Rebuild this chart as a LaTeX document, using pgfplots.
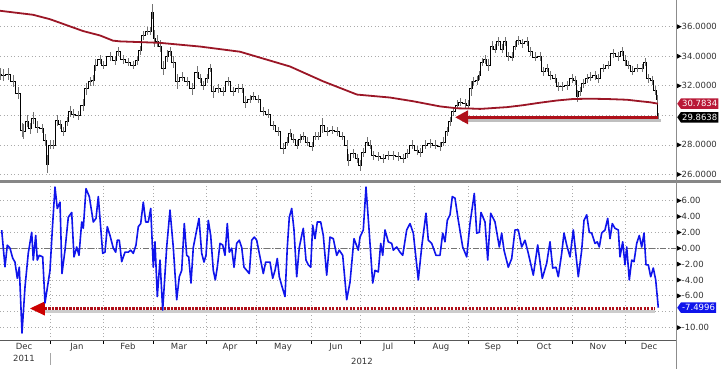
\documentclass[border=0pt]{standalone}
\usepackage{fontspec}
\setmainfont{DejaVu Sans}
\usepackage{pgfplots}
\pgfplotsset{compat=1.18}
\usepackage{pgfplotstable}
\usetikzlibrary{arrows.meta,shapes.symbols}

\definecolor{ma}{RGB}{155,22,38}
\definecolor{bl}{RGB}{15,20,235}
\definecolor{arr}{RGB}{175,15,25}
\definecolor{tagred}{RGB}{185,25,55}
\definecolor{gridc}{RGB}{170,170,170}
\definecolor{sepc}{RGB}{135,135,135}

\newcommand{\tri}{\tikz[baseline=-3pt]\fill[black] (0,2.3pt)--(4.5pt,0)--(0,-2.3pt)--cycle;}

% price: x position (days axis), close, half range (high-low)
\pgfplotstableread{
x c e
0 32.8 0.4
3 32.7 0.4
8 32.8 0.4
13 32.3 0.4
18 31.5 0.4
22 29.0 0.5
23 28.9 0.5
27 29.6 0.4
30 29.1 0.4
33 29.8 0.4
37 29.2 0.4
42 29.1 0.3
45 28.3 0.4
47 26.7 0.6
50 28.0 0.3
53 28.0 0.3
57 29.65 0.4
60 29.4 0.3
63 28.9 0.3
67 29.6 0.3
70 30.25 0.4
73 30.1 0.3
78 30.0 0.3
83 30.7 0.4
86 31.8 0.4
90 32.3 0.3
93 32.35 0.4
95 33.4 0.4
100 33.8 0.3
103 33.4 0.3
110 34.0 0.3
115 33.7 0.3
118 34.3 0.3
123 33.8 0.3
128 33.6 0.3
133 33.4 0.3
137 33.7 0.3
140 34.4 0.3
143 35.4 0.3
147 35.7 0.3
150 35.7 0.3
152 37.0 0.5
154 35.2 0.6
157 35.0 0.4
160 34.7 0.4
163 33.2 0.5
167 34.0 0.4
170 34.3 0.3
173 33.6 0.4
177 32.3 0.5
182 32.6 0.3
187 32.3 0.3
192 31.8 0.4
197 32.9 0.4
200 32.5 0.3
203 32.0 0.3
207 32.5 0.3
210 33.2 0.3
213 31.6 0.4
218 31.8 0.3
223 31.6 0.3
228 32.3 0.3
233 31.6 0.3
238 31.8 0.3
242 31.8 0.3
245 30.9 0.4
250 31.1 0.3
253 31.3 0.3
258 31.1 0.3
263 30.25 0.3
268 30.1 0.3
273 29.3 0.3
278 28.9 0.3
283 27.75 0.4
287 28.2 0.3
290 28.8 0.3
293 28.4 0.3
297 28.0 0.3
300 28.4 0.3
303 28.6 0.3
307 28.2 0.3
312 27.9 0.3
315 28.6 0.3
318 28.6 0.3
322 29.3 0.5
327 28.9 0.3
332 29.0 0.3
337 28.9 0.3
342 28.6 0.3
347 28.0 0.3
348 26.95 0.4
353 27.4 0.3
357 27.1 0.3
360 26.6 0.4
363 27.5 0.3
367 28.2 0.3
370 28.0 0.3
373 27.3 0.3
378 27.2 0.3
383 27.1 0.3
388 27.3 0.3
393 27.3 0.3
398 27.2 0.3
403 27.1 0.3
407 27.4 0.3
412 28.0 0.3
417 27.6 0.3
420 27.5 0.3
425 28.0 0.3
430 28.1 0.3
435 28.0 0.3
440 27.9 0.3
443 28.2 0.3
447 28.9 0.3
450 29.6 0.3
453 30.25 0.3
457 30.7 0.3
460 30.9 0.3
465 30.8 0.3
468 30.7 0.3
471 31.8 0.5
473 32.3 0.3
477 32.35 0.3
479 32.7 0.3
482 33.6 0.3
485 33.8 0.3
488 33.4 0.4
492 34.7 0.3
495 34.5 0.3
498 35.0 0.3
502 34.5 0.3
505 35.0 0.3
508 34.0 0.3
512 33.95 0.3
515 34.7 0.3
518 35.05 0.3
522 34.85 0.3
527 35.0 0.3
530 34.3 0.3
535 33.95 0.3
540 34.0 0.3
543 32.95 0.3
547 33.2 0.3
550 32.7 0.3
555 32.5 0.3
558 31.95 0.3
562 31.95 0.3
567 32.0 0.3
572 32.5 0.3
575 32.35 0.3
577 31.3 0.4
580 31.6 0.3
583 32.15 0.3
587 32.5 0.3
590 32.6 0.3
595 32.7 0.3
598 32.5 0.3
603 33.2 0.3
608 33.4 0.3
613 34.2 0.3
618 34.0 0.3
622 34.3 0.3
625 33.7 0.4
628 33.4 0.3
632 33.0 0.3
637 33.2 0.3
642 33.2 0.3
645 33.6 0.3
648 32.5 0.3
652 32.35 0.3
655 31.7 0.3
657 31.1 0.3
658 29.8638 0.3
}\price

\pgfplotstableread{
x v
0 37.07
33 36.8
50 36.5
83 35.7
100 35.4
113 35.05
120 35.0
160 34.9
200 34.65
240 34.3
290 33.3
323 32.3
357 31.4
390 31.2
413 30.95
440 30.6
457 30.47
473 30.45
480 30.43
507 30.55
523 30.68
540 30.85
557 31.0
573 31.1
590 31.12
607 31.1
627 31.05
640 30.95
650 30.88
658 30.7834
}\mavg

\pgfplotsset{
  common/.style={
    scale only axis, width=676pt, xmin=0, xmax=676, clip=false,
    axis x line*=bottom, axis y line*=right,
    y axis line style={draw=none},
    major tick length=0pt, minor tick length=3pt, tick align=outside,
    tick style={black, line width=0.6pt},
    minor xtick={50,103,153,206,256,311,360,414,468,517,572,625},
    xminorgrids, ymajorgrids,
    grid style={gridc, line width=0.6pt, dash pattern=on 1pt off 2.5pt},
    minor grid style={gridc, line width=0.6pt, dash pattern=on 1pt off 2.5pt},
    minor y tick num=1,
    yticklabel style={anchor=west, inner sep=0pt, xshift=1pt,
      font=\fontsize{8.5}{10}\selectfont, text=black!80},
    extra y tick style={grid=major, yticklabel={}},
  }
}

\begin{document}
\begin{tikzpicture}[font=\fontsize{8.5}{12.5}\selectfont]
\path[use as bounding box] (0,0) rectangle (721pt,369pt);

\begin{axis}[common, at={(0pt,189pt)}, anchor=south west, height=180pt,
  ymin=25.62, ymax=37.8, ytick={26,28,32,34,36}, extra y ticks={30}, xtick=\empty,
  x axis line style={draw=none},
  yticklabel={\tri\pgfmathprintnumber[fixed,fixed zerofill,precision=4,assume math mode=true]{\tick}}]
\addplot[black, line width=0.5pt, const plot mark mid,
  error bars/.cd, y dir=both, y explicit,
  error bar style={black!55, line width=0.8pt}, error mark=none]
  table[x=x, y=c, y error=e] {\price};
\addplot[ma, line width=1.8pt] table[x=x, y=v] {\mavg};
\addplot[black!25, line width=3.5pt] coordinates {(462,29.66) (661,29.66)};
\addplot[arr, line width=3.5pt, {Triangle[length=13pt,width=13pt]}-] coordinates {(455,29.8638) (658,29.8638)};
\coordinate (tR) at (axis cs:676,30.7834);
\coordinate (tK) at (axis cs:676,29.8638);
\end{axis}

\begin{axis}[common, at={(0pt,28.3pt)}, anchor=south west, height=157.2pt,
  ymin=-11.66, ymax=8.15, ytick={-10,-6,-4,-2,0,2,4,6}, extra y ticks={-8},
  x axis line style={black!65, line width=0.8pt},
  xtick={24,77,128,179,230,283,336,388,441,493,544,598,649},
  xticklabels={{Dec\\2011},Jan,Feb,Mar,Apr,May,Jun,Jul,Aug,Sep,Oct,Nov,Dec},
  xticklabel style={align=center, text=black!80, inner sep=2pt},
  yticklabel={\tri\pgfmathprintnumber[fixed,fixed zerofill,precision=2,assume math mode=true]{\tick}}]
\addplot[black!55, line width=0.6pt, dash pattern=on 6pt off 2pt on 1pt off 2pt] coordinates {(0,0) (676,0)};
\addplot[black!20, line width=3pt] coordinates {(45,-7.95) (655,-7.95)};
\addplot[arr, line width=2.6pt, dash pattern=on 2.2pt off 1.3pt] coordinates {(45,-7.6) (655,-7.6)};
\addplot[red!80!black, line width=1pt, {Triangle[length=15pt,width=14pt]}-] coordinates {(30,-7.6) (47,-7.6)};
\addplot[bl, line width=1.6pt, line join=round] coordinates {
(1.7,2.27) (5,-2.35) (7.3,0.38) (10,0) (12.7,-1.26) (15,-1.76) (17.3,-3.8) (19.3,-2.4) (22,-10.7) (25,-4.9)
(28.3,-0.6) (31.7,2.0) (33.3,-1.5) (35.7,1.6) (37.3,-1.5) (39.3,-0.9) (42.7,-1.1) (45,-6.9) (50,-2.8) (52.3,2.3)
(55,7.7) (57.3,5.0) (60,5.8) (62,-3.2) (65,-0.25) (68.3,3.9) (71.7,4.5) (74,-1.1) (76.7,0.15) (79,-0.9)
(81.7,3.3) (83.3,2.5) (86,7.5) (89.3,6.5) (93.3,3.3) (96,3.75) (98.3,6.5) (102.7,-0.65) (105,-0.5) (107.3,2.7)
(110,1.6) (113.3,0) (115.7,-0.5) (117.3,1.0) (119.3,1.0) (121.7,-1.7) (125,-0.5) (128.3,-0.5) (130.7,-0.25) (133.3,-0.65)
(136,0.4) (138.3,2.7) (140.7,3.1) (143.3,5.8) (145.7,3.3) (148.3,3.3) (150.7,5.0) (153.3,-2.4) (155,0.8) (157.3,-6.1)
(160,-1.5) (162.7,-7.8) (166.7,0.15) (170,4.8) (173.3,0.1) (176.7,-6.5) (179.3,-3.6) (181.7,-2.8) (184.3,3.1) (186.7,-0.9)
(188.7,-1.1) (191,-4.4) (193.3,0.1) (196.7,2.3) (199,3.75) (201.7,-0.65) (204,-1.75) (206,-0.9) (208.3,3.5) (210.7,1.6)
(213.3,-2.8) (215.3,-4.0) (217.3,-2.4) (220,0.6) (222.7,0.4) (225,-0.9) (227.3,3.1) (229.3,-0.5) (231.7,0) (234,-2.4)
(236.7,0.6) (239.3,1.0) (241.7,0.1) (244,-2.4) (246.7,-2.8) (249.3,-3.2) (251.7,1.0) (254.3,1.4) (256.7,1.0) (260,-1.1)
(263.3,-3.2) (265.7,-1.75) (270,-1.75) (272.7,-3.8) (275,-2.8) (277.3,-1.3) (279.3,-3.6) (281.7,-4.7) (285,-6.1) (287.3,0.1)
(289.3,3.9) (291.7,5.0) (294,2.3) (296.7,-3.6) (299.3,0.1) (301.7,1.6) (303.3,2.5) (306,-1.5) (308.3,-2.1) (310.7,-2.4)
(312.7,2.9) (315,1.2) (317.3,3.3) (320.7,3.3) (323.3,1.6) (326.7,-3.4) (330,1.4) (333.3,1.2) (336.7,-0.9) (339.3,-0.25)
(342.7,-0.9) (346.7,-6.5) (350,-4.3) (354,1.2) (358.3,-0.25)
(360,1.4) (363.3,2.3) (366,7.7) (369.3,1.9) (372.7,-4.4) (375,-2.8) (378.3,-3.0) (380.7,0.6) (382.7,-0.9) (385,2.3)
(388.3,0.8) (391.7,0.6) (393.3,-0.25) (396.7,0.15) (400,-0.5) (402.7,-0.9) (406.7,2.3) (410,3.1) (413.3,1.9) (418.3,-4.0)
(421.7,0.15) (426,4.4) (428.3,1.0) (431.7,0.6) (436,-0.9) (440,-0.9) (442.7,1.9) (445,0.8) (447.3,3.5) (450,4.2)
(452.3,6.5) (455,6.3) (458.3,3.5) (462.7,0.15) (466.7,-1.1) (470,3.1) (474.3,6.9) (476.7,1.9) (479.3,2.0) (481,4.5)
(485,3.3) (487.7,-1.5) (490.7,4.4) (495,3.3) (499.3,0.15) (501.7,1.9) (504,-0.25) (508.3,-2.4) (511.7,-1.3) (515,2.3)
(518.3,2.3) (521.7,0.15) (525,1.0) (528.3,-0.65) (533.3,-3.4) (537.7,0.4) (542.3,-3.8) (546.7,-1.9) (550,0.8) (552.7,-2.5)
(556,-2.4) (558.3,-3.6) (561.7,-0.65) (564,1.9) (566.7,0.4) (570,-1.1) (573.3,2.3) (578.3,-3.6) (581.7,-0.25) (584,3.5)
(586.7,4.2) (589.3,2.0) (591.7,1.9) (595,0.6) (597.3,0.8) (599.3,0.15) (601.7,1.9) (605,2.3) (607.7,3.75) (610,1.2)
(612.3,3.1) (615,2.5) (618.3,2.3) (620,-1.1) (622.7,0.8) (625,-2.1) (626.7,0.15) (629.3,-4.0) (631.7,-1.5) (634,-1.7)
(636.7,0.6) (639.3,1.6) (641.7,0.15) (644,1.9) (646,-2.1) (648.3,-2.1) (650.7,-3.6) (653.3,-2.5) (655.7,-4.0) (658.3,-7.4996)
};
\coordinate (tB) at (axis cs:676,-7.4996);
\end{axis}

\fill[sepc] (0,185.5pt) rectangle (721pt,189pt);
\draw[black!45, line width=0.6pt] (676pt,0) -- (676pt,369pt);
\draw[black!35, line width=0.6pt] (50pt,4pt) -- (50pt,16pt);
\node[font=\fontsize{8.5}{10}\selectfont, text=black!80] at (362pt,8pt) {2012};

\tikzset{tag/.style={signal, signal to=west, signal pointer angle=110, text=white,
  font=\fontsize{8.5}{10}\selectfont, inner sep=1.2pt, minimum height=10.5pt, anchor=west}}
\node[tag, fill=tagred] at ([xshift=1pt]tR) {30.7834};
\node[tag, fill=black] at ([xshift=1pt]tK) {29.8638};
\node[tag, fill=bl] at ([xshift=1pt]tB) {-7.4996};
\end{tikzpicture}
\end{document}
